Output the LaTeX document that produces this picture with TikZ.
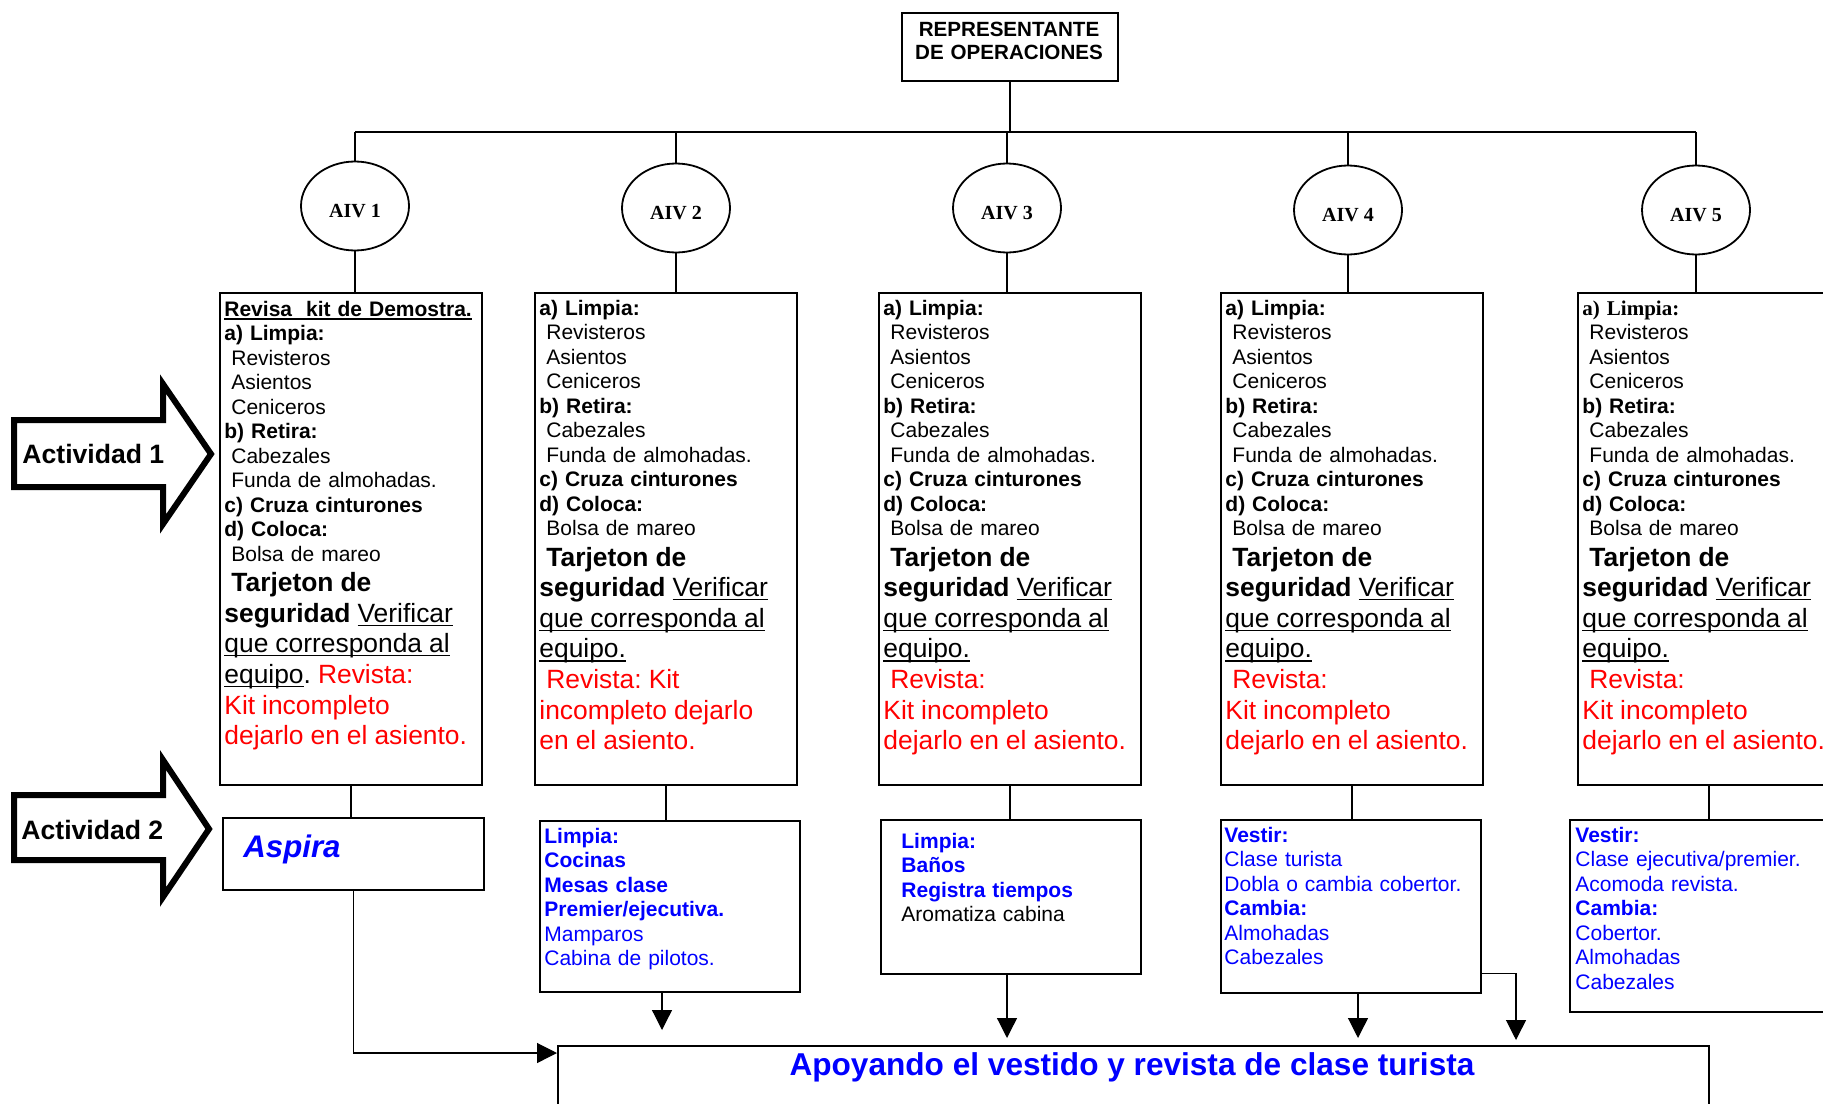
\documentclass[tikz,border=0pt]{standalone}
\usepackage{fontspec}
\setmainfont{Liberation Sans}
\newfontfamily\timesfam{Liberation Serif}
\usetikzlibrary{shapes.geometric,arrows.meta,calc}
\definecolor{inkblue}{RGB}{0,0,255}
\definecolor{inkred}{RGB}{255,0,0}
\frenchspacing

% underline that sits just under the baseline
\newsavebox\ulbox
\newcommand\ulin[1]{\leavevmode\sbox\ulbox{#1}\rlap{\rule[-1.8pt]{\wd\ulbox}{0.65pt}}\usebox\ulbox}
\newcommand\fsS{\fontsize{10.5}{12.25}\selectfont}
\newcommand\fsL{\fontsize{13.2}{15.3}\selectfont}
\newcommand\aivfont{\timesfam\bfseries\fontsize{10}{12}\selectfont}

% shared list of cabin tasks
\newcommand\tasklist[1]{#1\\
\ Revisteros\\
\ Asientos\\
\ Ceniceros\\
\textbf{b) Retira:}\\
\ Cabezales\\
\ Funda de almohadas.\\
\textbf{c) Cruza cinturones}\\
\textbf{d) Coloca:}\\
\ Bolsa de mareo\\
\fsL\ \textbf{Tarjeton de}\\
\textbf{seguridad} \ulin{Verificar}\\
\ulin{que corresponda al}\\}
\newcommand\kitcheck{\ulin{equipo.}\\
\leavevmode\color{inkred}\ Revista:\\
Kit incompleto\\
dejarlo en el asiento.\par}

\begin{document}
\begin{tikzpicture}[x=0.5pt,y=-0.5pt,
  pbox/.style={draw, line width=0.9pt, rectangle, inner sep=0pt, anchor=north west},
  aiv/.style={draw, ellipse, line width=0.9pt, inner sep=0pt,
    minimum width=54pt, minimum height=44.5pt, text height=11pt, text depth=0pt,
    font=\aivfont},
  conn/.style={line width=0.6pt},
  bus/.style={line width=1pt},
  arr/.style={line width=0.6pt, -{Triangle[length=10pt,width=10pt]}},
  blockarrow/.style={line width=3pt, line join=miter},
  txt/.style={anchor=base west, inner sep=0pt, align=left, text width=126pt, font=\fsS},
  lbl/.style={anchor=base west, inner sep=0pt}]
\useasboundingbox (0,0) rectangle (1823,1103);
\clip (0,0) rectangle (1823,1103);

% head of the chart
\node[pbox, minimum width=108pt, minimum height=34pt] (rep) at (901,12) {};
\node[anchor=base, inner sep=0pt, text width=110pt, align=center,
  font=\bfseries\fontsize{10.3}{11.65}\selectfont] (rept) at (1009,36.5)
  {REPRESENTANTE\\DE OPERACIONES};

% AIV ellipses
\node[aiv] (a1) at (355,206) {AIV 1};
\node[aiv] (a2) at (676,208) {AIV 2};
\node[aiv] (a3) at (1007,208) {AIV 3};
\node[aiv] (a4) at (1348,210) {AIV 4};
\node[aiv] (a5) at (1696,210) {AIV 5};

\coordinate (busL) at (355,132);
\coordinate (busR) at (1696,132);
\draw[bus] (busL) -- (busR);
\draw[conn] (rep.south) -- (rep.south |- busL);
\foreach \k in {1,...,5}{
  \draw[conn] (a\k.north |- busL) -- (a\k.north);
}

% activity 1 boxes
\node[pbox, minimum width=131pt, minimum height=246pt] (b1) at (219,292) {};
\node[pbox, minimum width=131pt, minimum height=246pt] (b2) at (534,292) {};
\node[pbox, minimum width=131pt, minimum height=246pt] (b3) at (878,292) {};
\node[pbox, minimum width=131pt, minimum height=246pt] (b4) at (1220,292) {};
\node[pbox, minimum width=131pt, minimum height=246pt] (b5) at (1577,292) {};
\foreach \k in {1,...,5}{
  \draw[conn] (a\k.south) -- (a\k.south |- b\k.north);
}

\node[txt] (b1t) at (224,316) {%
\textbf{\ulin{Revisa\ \ kit de Demostra.}}\\
\tasklist{\textbf{a) Limpia:}}%
\ulin{equipo}. \color{inkred}Revista:\\
Kit incompleto\\
dejarlo en el asiento.\par};

\node[txt] (b2t) at (539,315) {%
\tasklist{\textbf{a) Limpia:}}%
\ulin{equipo.}\\
\leavevmode\color{inkred}\ Revista: Kit\\
incompleto dejarlo\\
en el asiento.\par};

\node[txt] (b3t) at (883,315) {\tasklist{\textbf{a) Limpia:}}\kitcheck};
\node[txt] (b4t) at (1225,315) {\tasklist{\textbf{a) Limpia:}}\kitcheck};
\node[txt] (b5t) at (1582,315) {\tasklist{{\timesfam\bfseries a) Limpia:}}\kitcheck};

% activity 2 boxes
\node[pbox, minimum width=130.5pt, minimum height=36pt] (asp) at (222,817) {};
\node[lbl, text=inkblue, font=\bfseries\itshape\fontsize{15.6}{18}\selectfont] (aspt) at (243,857) {Aspira};

\node[pbox, minimum width=130pt, minimum height=85.5pt] (b2b) at (539,820) {};
\node[pbox, minimum width=130pt, minimum height=77pt] (b3b) at (880,819) {};
\node[pbox, minimum width=130pt, minimum height=86.5pt] (b4b) at (1220,819) {};
\node[pbox, minimum width=131pt, minimum height=96pt] (b5b) at (1569,819) {};

\draw[conn] (b1.south) -- (b1.south |- asp.north);
\draw[conn] (b2.south) -- (b2.south |- b2b.north);
\draw[conn] (b3.south) -- (b3.south |- b3b.north);
\draw[conn] (b4.south) -- (b4.south |- b4b.north);
\draw[conn] (b5.south) -- (b5.south |- b5b.north);

\node[txt, text=inkblue] (b2bt) at (544,843) {%
\textbf{Limpia:}\\
\textbf{Cocinas}\\
\textbf{Mesas clase}\\
\textbf{Premier/ejecutiva.}\\
Mamparos\\
Cabina de pilotos.};

\node[txt, text=inkblue] (b3bt) at (901,848) {%
\textbf{Limpia:}\\
\textbf{Baños}\\
\textbf{Registra tiempos}\\
\leavevmode\color{black}Aromatiza cabina};

\node[txt, text=inkblue] (b4bt) at (1224,842) {%
\textbf{Vestir:}\\
Clase turista\\
Dobla o cambia cobertor.\\
\textbf{Cambia:}\\
Almohadas\\
Cabezales};

\node[txt, text=inkblue] (b5bt) at (1575,842) {%
\textbf{Vestir:}\\
Clase ejecutiva/premier.\\
Acomoda revista.\\
\textbf{Cambia:}\\
Cobertor.\\
Almohadas\\
Cabezales};

% final task
\node[pbox, minimum width=575.5pt, minimum height=50pt] (fin) at (557,1045) {};
\node[anchor=base, inner sep=0pt, text=inkblue, font=\bfseries\fontsize{15.8}{18}\selectfont]
  (fint) at (1132,1075) {Apoyando el vestido y revista de clase turista};

\coordinate (t2) at (662,1030);
\coordinate (t3) at (1007,1038);
\coordinate (t4) at (1358,1038);
\coordinate (t5) at (1516,1040);
\draw[arr] (asp.south) |- ($(fin.north west)+(0,8)$);
\draw[arr] (b2b.south -| t2) -- (t2);
\draw[arr] (b3b.south -| t3) -- (t3);
\draw[arr] (b4b.south -| t4) -- (t4);
\draw[arr] ($(b4b.south east)+(0,-20)$) -| (t5);

% activity markers
\draw[blockarrow] (14,420) -- (163,420) -- (163,384) -- (211,454) -- (163,524)
  -- (163,487) -- (14,487) -- cycle;
\draw[blockarrow] (14,795) -- (163,795) -- (163,760) -- (209,829) -- (163,897)
  -- (163,860) -- (14,860) -- cycle;
\node[lbl, font=\bfseries\fontsize{13.3}{16}\selectfont] (act1) at (22,463) {Actividad 1};
\node[lbl, font=\bfseries\fontsize{13.3}{16}\selectfont] (act2) at (21,839) {Actividad 2};
\end{tikzpicture}
\end{document}
